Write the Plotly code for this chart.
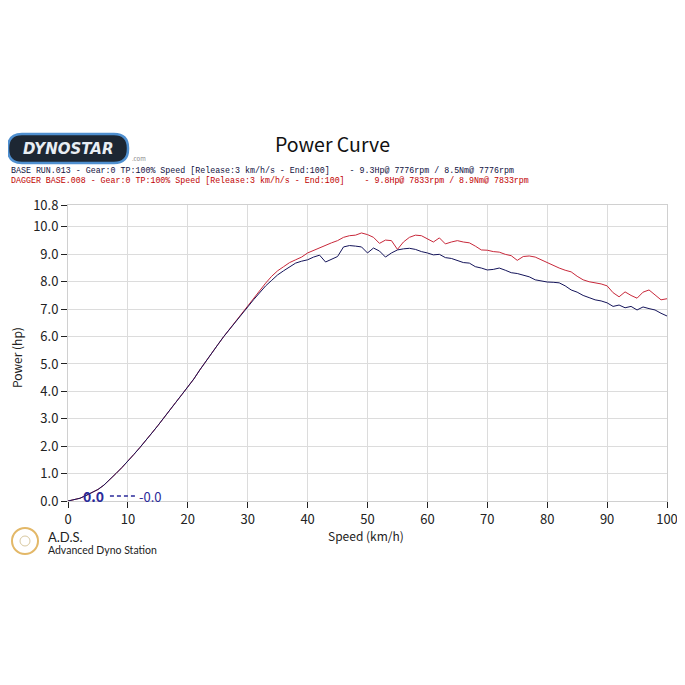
import plotly.graph_objects as go

# ---- data ----
speed = list(range(0, 101))
power_base = [
    0.0, 0.05, 0.1, 0.2, 0.3, 0.42, 0.58, 0.78, 1.0, 1.22,
    1.45, 1.7, 1.95, 2.2, 2.48, 2.75, 3.02, 3.3, 3.6, 3.88,
    4.16, 4.45, 4.78, 5.1, 5.4, 5.7, 6.0, 6.28, 6.55, 6.82,
    7.08, 7.35, 7.6, 7.85, 8.05, 8.25, 8.4, 8.55, 8.68, 8.75,
    8.8, 8.9, 8.97, 8.72, 8.82, 8.92, 9.27, 9.32, 9.3, 9.27,
    9.05, 9.23, 9.12, 8.9, 9.05, 9.16, 9.2, 9.22, 9.18, 9.1,
    9.05, 8.98, 9.0, 8.88, 8.85, 8.78, 8.7, 8.68, 8.55, 8.5,
    8.43, 8.45, 8.5, 8.42, 8.33, 8.3, 8.25, 8.18, 8.07, 8.02,
    7.99, 7.98, 7.96, 7.85, 7.7, 7.62, 7.5, 7.42, 7.34, 7.3,
    7.23, 7.1, 7.15, 7.05, 7.1, 6.97, 7.08, 7.02, 6.97, 6.85,
    6.75,
]
power_dagger = [
    0.0, 0.05, 0.1, 0.2, 0.3, 0.42, 0.58, 0.78, 1.0, 1.22,
    1.45, 1.7, 1.95, 2.2, 2.48, 2.75, 3.02, 3.3, 3.6, 3.88,
    4.16, 4.45, 4.78, 5.1, 5.4, 5.7, 6.0, 6.28, 6.55, 6.82,
    7.1, 7.4, 7.7, 7.95, 8.2, 8.4, 8.55, 8.7, 8.8, 8.9,
    9.05, 9.15, 9.25, 9.32, 9.42, 9.5, 9.62, 9.68, 9.7, 9.78,
    9.72, 9.62, 9.4, 9.52, 9.5, 9.18, 9.45, 9.62, 9.7, 9.68,
    9.55, 9.45, 9.6, 9.38, 9.45, 9.5, 9.45, 9.42, 9.3, 9.16,
    9.15, 9.1, 9.08, 9.0, 8.95, 8.78, 8.92, 8.94, 8.9, 8.8,
    8.68, 8.58, 8.5, 8.42, 8.36, 8.2, 8.07, 8.0, 7.97, 7.92,
    7.85, 7.6, 7.45, 7.63, 7.5, 7.4, 7.62, 7.7, 7.52, 7.34,
    7.38,
]
y_tickvals = [0, 1, 2, 3, 4, 5, 6, 7, 8, 9, 10, 10.8]
y_ticktext = ["0.0", "1.0", "2.0", "3.0", "4.0", "5.0", "6.0", "7.0", "8.0", "9.0", "10.0", "10.8"]
x_tickvals = [0, 10, 20, 30, 40, 50, 60, 70, 80, 90, 100]
header_base = "BASE RUN.013 - Gear:0 TP:100% Speed [Release:3 km/h/s - End:100]    - 9.3Hp@ 7776rpm / 8.5Nm@ 7776rpm"
header_dagger = "DAGGER BASE.008 - Gear:0 TP:100% Speed [Release:3 km/h/s - End:100]    - 9.8Hp@ 7833rpm / 8.9Nm@ 7833rpm"

NAVY = "#14145a"
RED = "#c8283a"
FONT = "Noto Sans CJK JP"

# page has 8px body margin -> figure 669x669, plot area px (68..667, 205..501) in window
W = H = 669
L, R, T, B = 60, 10, 197, 176
PW, PH = W - L - R, H - T - B


def px(xw):  # window x -> paper x
    return (xw - 8 - L) / PW


def py(yw):  # window y -> paper y
    return 1 - (yw - 8 - T) / PH


def rounded_rect_path(x0, y0, x1, y1, r):
    """window-pixel rounded rect -> paper-coordinate SVG path"""
    pts = [
        ("M", (x0 + r, y0)), ("L", (x1 - r, y0)), ("Q", (x1, y0), (x1, y0 + r)),
        ("L", (x1, y1 - r)), ("Q", (x1, y1), (x1 - r, y1)),
        ("L", (x0 + r, y1)), ("Q", (x0, y1), (x0, y1 - r)),
        ("L", (x0, y0 + r)), ("Q", (x0, y0), (x0 + r, y0)),
    ]
    out = []
    for cmd, *ps in pts:
        out.append(cmd + " " + " ".join(f"{px(a):.5f},{py(b):.5f}" for a, b in ps))
    return " ".join(out) + " Z"


fig = go.Figure()
fig.add_trace(go.Scatter(x=speed, y=power_dagger, mode="lines",
                         line=dict(color=RED, width=1), hoverinfo="skip"))
fig.add_trace(go.Scatter(x=speed, y=power_base, mode="lines",
                         line=dict(color=NAVY, width=1), hoverinfo="skip"))

fig.update_layout(
    width=W, height=H,
    margin=dict(l=L, r=R, t=T, b=B, autoexpand=False),
    paper_bgcolor="white", plot_bgcolor="white",
    showlegend=False,
    font=dict(family=FONT, color="#222222", size=12),
    xaxis=dict(range=[0, 100], tickvals=x_tickvals, showgrid=True, automargin=False,
               ticklabeloverflow="allow",
               gridcolor="#dcdcdc", gridwidth=1, zeroline=False,
               showline=True, linecolor="#d0d0d0", mirror=True,
               ticks="outside", ticklen=6, tickcolor="#222",
               tickfont=dict(size=13, family=FONT)),
    yaxis=dict(range=[0, 10.8], tickvals=y_tickvals, ticktext=y_ticktext, automargin=False,
               ticklabeloverflow="allow",
               showgrid=True, gridcolor="#dcdcdc", gridwidth=1, zeroline=False,
               showline=True, linecolor="#d0d0d0", mirror=True,
               ticks="outside", ticklen=6, tickcolor="#222",
               tickfont=dict(size=13, family=FONT)),
)

# axis titles
fig.add_annotation(text="Speed (km/h)", xref="paper", yref="paper", x=px(366), y=py(535),
                   showarrow=False, xanchor="center", yanchor="middle",
                   font=dict(size=12, family=FONT, color="#222"))
fig.add_annotation(text="Power (hp)", xref="paper", yref="paper", x=px(16), y=py(358),
                   showarrow=False, xanchor="center", yanchor="middle", textangle=-90,
                   font=dict(size=12, family=FONT, color="#222"))

# title
fig.add_annotation(text="Power Curve", xref="paper", yref="paper", x=px(332), y=py(143),
                   showarrow=False, font=dict(size=19.5, family=FONT, color="#111"),
                   xanchor="center", yanchor="middle")
# header lines
fig.add_annotation(text=header_base.replace(" ", "&nbsp;"),
                   xref="paper", yref="paper", x=px(9), y=py(170),
                   showarrow=False, xanchor="left", yanchor="middle",
                   font=dict(size=8.3, family="Liberation Mono", color="#101040"))
fig.add_annotation(text=header_dagger.replace(" ", "&nbsp;"),
                   xref="paper", yref="paper", x=px(9), y=py(181),
                   showarrow=False, xanchor="left", yanchor="middle",
                   font=dict(size=8.3, family="Liberation Mono", color="#c00000"))

# Dynostar logo
fig.add_shape(type="path", xref="paper", yref="paper",
              path=rounded_rect_path(8, 134, 128, 163, 14),
              fillcolor="#1d2733", line=dict(color="#4f8fcf", width=2.5))
fig.add_annotation(text="<b><i>DYNOSTAR</i></b>", xref="paper", yref="paper",
                   x=px(68), y=py(149), xanchor="center", yanchor="middle",
                   showarrow=False, font=dict(size=15, family="DejaVu Sans", color="#e8eef4"))
fig.add_annotation(text=".com", xref="paper", yref="paper", x=px(130), y=py(159),
                   showarrow=False, font=dict(size=6, color="#888"), xanchor="left", yanchor="middle")

# 0.0 labels
fig.add_annotation(text="<b>0.0</b>", x=4.3, y=0.18, showarrow=False,
                   font=dict(size=14, family=FONT, color="#2a2a9a"))
fig.add_shape(type="line", x0=7, x1=11.5, y0=0.18, y1=0.18,
              line=dict(color="#2a2a9a", width=1.5, dash="4px,3px"))
fig.add_annotation(text="-0.0", x=11.5, y=0.18, showarrow=False, xanchor="left",
                   font=dict(size=13, family=FONT, color="#2a2a9a"))

# ADS logo
fig.add_shape(type="circle", xref="paper", yref="paper",
              xsizemode="pixel", ysizemode="pixel", xanchor=px(25), yanchor=py(541),
              x0=-13, x1=13, y0=-13, y1=13,
              line=dict(color="#e3b868", width=2))
fig.add_shape(type="circle", xref="paper", yref="paper",
              xsizemode="pixel", ysizemode="pixel", xanchor=px(25), yanchor=py(541),
              x0=-5, x1=5, y0=-5, y1=5,
              line=dict(color="#d8c8a0", width=1))
fig.add_annotation(text="A.D.S.", xref="paper", yref="paper", x=px(46), y=py(537),
                   showarrow=False, xanchor="left", yanchor="middle",
                   font=dict(size=13, family="Lato", color="#222"))
fig.add_annotation(text="Advanced Dyno Station", xref="paper", yref="paper", x=px(46), y=py(550),
                   showarrow=False, xanchor="left", yanchor="middle",
                   font=dict(size=10.5, family="Lato", color="#222"))

fig.write_html("out.html")
